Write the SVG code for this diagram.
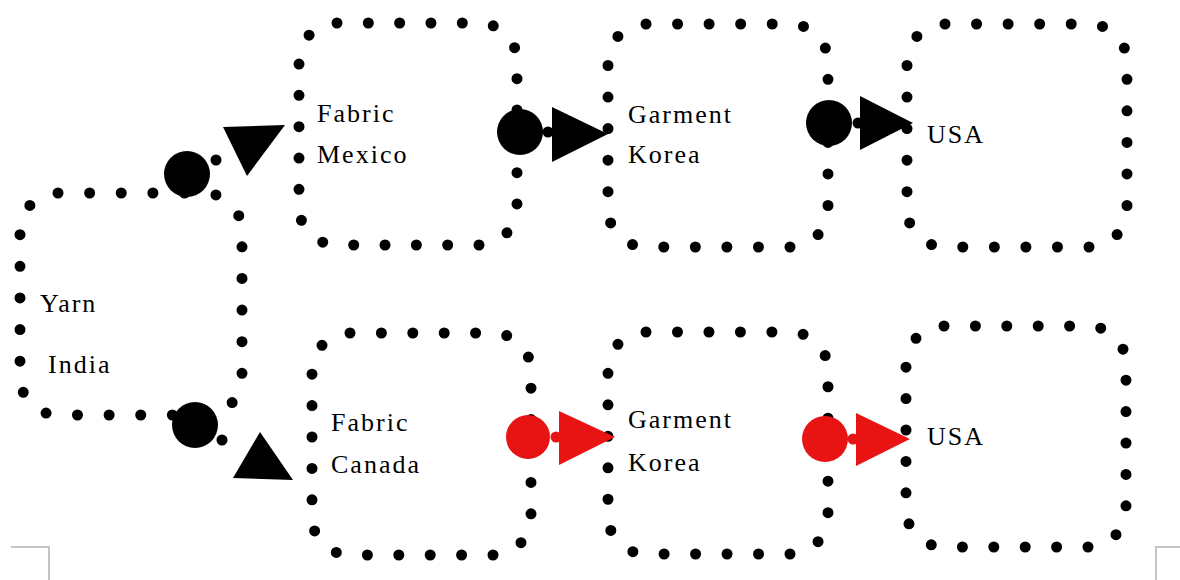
<svg xmlns="http://www.w3.org/2000/svg" width="1180" height="580" viewBox="0 0 1180 580">
<style>
.box{fill:none;stroke:#000;stroke-width:11;stroke-linecap:round;stroke-dasharray:0 1}
.lbl{font-family:"Liberation Serif","DejaVu Serif",serif;font-size:26px;letter-spacing:2px;fill:#000}
.blk{fill:#000}
.red{fill:#e81414}
.crop{fill:none;stroke:#c4c4c4;stroke-width:2}
</style>
<rect width="1180" height="580" fill="#fff"/>
<g id="crop-marks">
<path class="crop" d="M11 547H49V580"/>
<path class="crop" d="M1180 547H1156V580"/>
</g>
<g id="node-yarn">
<rect class="box" x="20" y="193" width="222" height="222" rx="38" pathLength="26"/>
<text class="lbl" x="40" y="312">Yarn</text>
<text class="lbl" x="48" y="373">India</text>
</g>
<g id="node-fabric-mexico">
<rect class="box" x="299" y="23" width="218" height="222" rx="38" pathLength="26"/>
<text class="lbl" x="317" y="122">Fabric</text>
<text class="lbl" x="317" y="163">Mexico</text>
</g>
<g id="node-garment-korea-1">
<rect class="box" x="608" y="24" width="220" height="223" rx="38" pathLength="26"/>
<text class="lbl" x="628" y="123">Garment</text>
<text class="lbl" x="628" y="163">Korea</text>
</g>
<g id="node-usa-1">
<rect class="box" x="907" y="24" width="220" height="223" rx="38" pathLength="26"/>
<text class="lbl" x="927" y="143">USA</text>
</g>
<g id="node-fabric-canada">
<rect class="box" x="312" y="333" width="219" height="222" rx="38" pathLength="26"/>
<text class="lbl" x="331" y="431">Fabric</text>
<text class="lbl" x="331" y="473">Canada</text>
</g>
<g id="node-garment-korea-2">
<rect class="box" x="608" y="332" width="220" height="222" rx="38" pathLength="26"/>
<text class="lbl" x="628" y="428">Garment</text>
<text class="lbl" x="628" y="471">Korea</text>
</g>
<g id="node-usa-2">
<rect class="box" x="906" y="326" width="220" height="221" rx="38" pathLength="26"/>
<text class="lbl" x="927" y="445">USA</text>
</g>
<g id="connectors">
<g class="blk">
<circle cx="187" cy="174" r="23"/><circle cx="216" cy="160" r="5.5"/>
<polygon points="223,127 285,125 247,176"/>
<circle cx="195" cy="425" r="23"/><circle cx="222" cy="440" r="5.5"/>
<polygon points="260,432 233,478 293,480"/>
<circle cx="520" cy="132" r="23"/><circle cx="548" cy="132" r="5.5"/>
<polygon points="552,107 552,162 608,134"/>
<circle cx="829" cy="123" r="23"/><circle cx="858" cy="123" r="5.5"/>
<polygon points="860,96 860,150 913,123"/>
</g>
<g class="red">
<circle cx="528" cy="437" r="22"/><circle cx="556" cy="437" r="5.5"/>
<polygon points="559,411 559,465 615,437"/>
<circle cx="825" cy="439" r="23"/><circle cx="853" cy="439" r="5.5"/>
<polygon points="856,413 856,466 910,439"/>
</g>
</g>
</svg>
